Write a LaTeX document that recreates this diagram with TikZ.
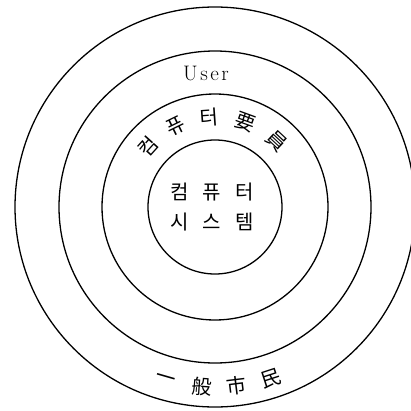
\documentclass[tikz,border=0pt]{standalone}
\usepackage{fontspec}
\newfontfamily\kr{Noto Sans CJK KR}
\usetikzlibrary{positioning}

\begin{document}
\begin{tikzpicture}[x=1pt,y=1pt,
  ring/.style={draw,circle,line width=1.3pt,inner sep=0pt},
  hangul/.style={font=\kr\fontsize{20}{20}\selectfont,inner sep=0pt},
  latin/.style={font=\fontsize{21}{21}\selectfont,inner sep=0pt}]
\useasboundingbox (0,0) rectangle (411,410);
\coordinate (c) at (215,203);
% rings, inner to outer
\node[ring,minimum size=134pt] (system) at (c) {};
\node[ring,minimum size=226pt] (staff) at (c) {};
\node[ring,minimum size=312pt] (user) at (c) {};
\node[ring,minimum size=400pt] (public) at (c) {};
% centre text
\node[hangul] (sys1) at (212,218) {컴\hspace{14pt}퓨\hspace{14pt}터};
\node[hangul] (sys2) at (212,188) {시\hspace{14pt}스\hspace{14pt}템};
% band labels
\foreach \ch/\a in {컴/138,퓨/116,터/94,要/70,員/47}
  \node[hangul,rotate=\a-90] (staff-\a) at ([shift={(\a:90)}]c) {\ch};
\node[latin] (userlbl) at (206,337) {U\kern2.5pt s\kern2.5pt e\kern2.5pt r};
\foreach \ch/\a in {一/254,般/266,市/277,民/288}
  \node[hangul,rotate=\a+90] (public-\a) at ([shift={(\a:180)}]c) {\ch};
\end{tikzpicture}
\end{document}
